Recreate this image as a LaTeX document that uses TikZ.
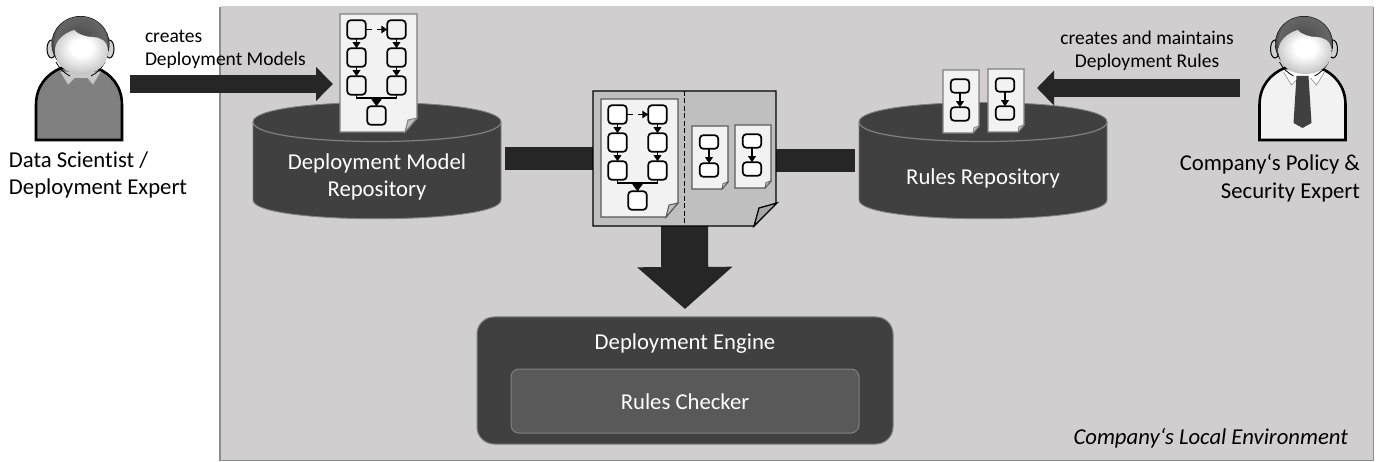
\documentclass[tikz,border=0pt]{standalone}
\usepackage{fontspec}
\setmainfont[Ligatures=CommonOff]{Carlito}
\usetikzlibrary{arrows.meta,calc}
\definecolor{panel}{HTML}{D0CECE}
\definecolor{darkbar}{HTML}{262626}
\definecolor{repo}{HTML}{404040}
\definecolor{rim}{HTML}{808080}
\definecolor{sheet}{HTML}{F2F2F2}
\definecolor{paperA}{HTML}{BFBFBF}
\definecolor{bodygray}{HTML}{808080}
\definecolor{collargray}{HTML}{C8C8C8}
\definecolor{earcolor}{HTML}{D0D0D0}
\pgfdeclareradialshading{faceshade}{\pgfpoint{0bp}{6bp}}{color(0bp)=(white); color(10bp)=(white); color(24bp)=(black!18); color(38bp)=(black!42); color(50bp)=(black!62)}
\pgfdeclareradialshading{hairshade}{\pgfpoint{0bp}{6bp}}{color(0bp)=(black!70); color(22bp)=(black!60); color(30bp)=(black!92); color(50bp)=(black)}
\tikzset{
  every node/.style={inner sep=0pt,outer sep=0pt},
  bigtxt/.style={font=\fontsize{22.7}{27.5}\selectfont,align=center},
  lighttxt/.style={bigtxt,text=white},
  smalltxt/.style={font=\fontsize{19.5}{23}\selectfont},
  blockarrow/.style={draw=darkbar,line width=#1},
  flowbox/.style={draw=black,line width=1.7pt,rounded corners=3.5pt,fill=white,minimum width=18.5pt,minimum height=18.5pt},
  ruleboxn/.style={draw=black,line width=1.7pt,rounded corners=3.5pt,fill=white,minimum width=18.5pt,minimum height=13.5pt},
  flowarrow/.style={draw=black,line width=1.4pt,-{Triangle[length=6pt,width=7.5pt]}},
  flowline/.style={draw=black,line width=1.4pt},
  repobody/.style={fill=repo,draw=rim,line width=0.9pt},
  paperstyle/.style={fill=sheet,draw=#1,line width=1.3pt},
}
% doc with flow chart: name, x, y, box fill, border colour
\newcommand{\flowdoc}[5]{%
\begin{scope}[shift={(#2,#3)}]
  \draw[paperstyle=#5] (0,0) -- (77,0) -- (77,104) -- (65,118) -- (0,118) -- cycle;
  \draw[fill=paperA,draw=#5,line width=1pt] (65,118) -- (68,106) -- (77,104) -- cycle;
  \tikzset{flowbox/.append style={fill=#4}}
  \node[flowbox] (#1a) at (16.5,15.5) {};
  \node[flowbox] (#1b) at (16.5,43.5) {};
  \node[flowbox] (#1c) at (16.5,71.5) {};
  \node[flowbox] (#1d) at (56.5,15.5) {};
  \node[flowbox] (#1e) at (56.5,43.5) {};
  \node[flowbox] (#1f) at (56.5,71.5) {};
  \node[flowbox] (#1g) at (36.5,101.5) {};
  \coordinate (#1m) at (36.5,84);
  \draw[flowarrow,dash pattern=on 6pt off 5.5pt on 20pt] (#1a) -- (#1d);
  \draw[flowarrow] (#1a) -- (#1b);
  \draw[flowarrow] (#1b) -- (#1c);
  \draw[flowarrow] (#1d) -- (#1e);
  \draw[flowarrow] (#1e) -- (#1f);
  \draw[flowline] (#1c.south) -- (#1c.south |- #1m) -- (#1f.south |- #1m) -- (#1f.south);
  \draw[draw=black,line width=1.4pt,-{Triangle[length=7pt,width=10pt]}] (#1m) -- (#1g.north);
\end{scope}}
% small rule doc: name, x, y, box fill, border colour
\newcommand{\ruledoc}[5]{%
\begin{scope}[shift={(#2,#3)}]
  \draw[paperstyle=#5] (0,0) -- (36,0) -- (36,56) -- (30,63) -- (0,63) -- cycle;
  \draw[fill=paperA,draw=#5,line width=0.7pt] (30,63) -- (31,57.5) -- (36,56) -- cycle;
  \tikzset{ruleboxn/.append style={fill=#4}}
  \node[ruleboxn] (#1a) at (17,16) {};
  \node[ruleboxn] (#1b) at (17,44) {};
  \draw[flowarrow] (#1a) -- (#1b);
\end{scope}}
% person: name, centre x, body fill, collar fill
\newcommand{\persona}[4]{%
\begin{scope}[shift={(#2,0)}]
  \draw[fill=#3,draw=black,line width=2.6pt,line join=miter]
    (-43,140) -- (-43,105) .. controls (-43,86) and (-32,74) .. (-18,68) -- (18,68)
    .. controls (32,74) and (43,86) .. (43,105) -- (43,140) -- cycle;
  \fill[#4] (-19,72) -- (-11,85) -- (-4,78) -- (8,78) -- (14,85) -- (22,72) -- cycle;
  \draw[black!45,line width=0.6pt] (-19,72) -- (-11,85) -- (-4,78) (8,78) -- (14,85) -- (22,72);
  \draw[fill=earcolor,draw=black,line width=1pt] (-27.5,49) ellipse [x radius=4.5,y radius=9];
  \draw[fill=earcolor,draw=black,line width=1pt] (30.5,49) ellipse [x radius=4.5,y radius=9];
  \fill[black] (1.5,44) ellipse [x radius=29,y radius=28];
  \shade[shading=hairshade] (1.5,44) ellipse [x radius=28.5,y radius=27.5];
  \draw[black,line width=0.8pt] (-23,62) .. controls (-20,68) and (-15,73) .. (-9,76)
     (26,62) .. controls (23,68) and (18,73) .. (12,76);
  \shade[shading=faceshade]
    (-24,50) .. controls (-24,41) and (-15,33) .. (-5,30)
    .. controls (-1,34) and (6,37) .. (14,37)
    .. controls (21,37) and (29,41) .. (29,51)
    .. controls (29,66) and (17,74) .. (3,74)
    .. controls (-12,74) and (-24,66) .. (-24,50) -- cycle;
  \node[minimum width=88pt,minimum height=72pt] (#1) at (0,104) {};
\end{scope}}
\newcommand{\repodraw}[1]{%
\begin{scope}[shift={(#1,0)}]
  \draw[repobody] (-124,122) .. controls (-124,96) and (124,96) .. (124,122)
    -- (124,200) .. controls (124,225) and (-124,225) .. (-124,200) -- cycle;
  \draw[rim,line width=1.2pt] (-124,122) .. controls (-124,148) and (124,148) .. (124,122);
\end{scope}}
\begin{document}
\begin{tikzpicture}[x=1pt,y=-1pt]
\useasboundingbox (0,0) rectangle (1379,462);
\fill[white] (0,0) rectangle (1379,462);
% panel
\fill[black!45] (219,7) rectangle (1374,461);
\fill[panel] (220.5,6) rectangle (1373,459.5);
% layout anchors
\node[minimum width=183pt,minimum height=135pt] (merged) at (684.5,158.5) {};
\node[draw=rim,fill=repo,rounded corners=17pt,line width=1pt,minimum width=416pt,minimum height=127pt] (engine) at (685,380.5) {};
\node[draw=rim,fill=black!65,rounded corners=8pt,line width=1pt,minimum width=348pt,minimum height=64pt] (checker) at (685,401) {};
\node[lighttxt] (enginetxt) at (685,344) {Deployment Engine};
\node[lighttxt] (checkertxt) at (685,402) {Rules Checker};
% connectors
\coordinate (modelout) at (505,158.5);
\coordinate (rulesout) at (855,160.5);
\draw[blockarrow=23pt] (modelout) -- (merged.west |- modelout);
\draw[blockarrow=23pt] (rulesout) -- (merged.east |- rulesout);
\draw[blockarrow=47pt,-{Triangle[length=42pt,width=93pt]}] (merged.south) -- ([yshift=8pt]engine.north);
% repositories
\repodraw{377}
\repodraw{983}
\node[lighttxt] (modelrepo) at (377,177) {Deployment Model\\Repository};
\node[lighttxt] (rulesrepo) at (983,178) {Rules Repository};
% persons
\persona{scientist}{79}{bodygray}{collargray}
\persona{expert}{1302.5}{sheet}{white}
\fill[repo] (1296.5,76) -- (1308.5,76) -- (1311.5,123) -- (1302.5,128) -- (1293.5,123) -- cycle;
% documents
\flowdoc{top}{340}{14}{sheet}{rim}
\ruledoc{ra}{943}{70}{sheet}{rim}
\ruledoc{rb}{988}{69}{sheet}{rim}
% merged document
\draw[fill=paperA,draw=black,line width=1.3pt] (593,91) -- (776,91) -- (776,203) -- (754,226) -- (593,226) -- cycle;
\draw[fill=black!35,draw=black,line width=1.3pt] (754,226) -- (759,208) -- (777,203) -- cycle;
\draw[black,line width=1pt,dash pattern=on 5pt off 2.5pt] (merged.north) -- (merged.south);
\flowdoc{mid}{601}{99}{white}{black!65}
\ruledoc{mb}{692}{126}{white}{black!65}
\ruledoc{mc}{735}{125}{white}{black!65}
% person arrows
\coordinate (createsstart) at (130,84);
\coordinate (createsend) at (333,84);
\coordinate (rulesstart) at (1240,88);
\coordinate (rulesend) at (1037,88);
\draw[blockarrow=18pt,-{Triangle[length=17pt,width=33pt]}] (createsstart) -- (createsend);
\draw[blockarrow=18pt,-{Triangle[length=17pt,width=34pt]}] (rulesstart) -- (rulesend);
% labels
\node[bigtxt,align=left,anchor=west] (scientistlabel) at (9,175) {Data Scientist /\\Deployment Expert};
\node[bigtxt,align=right,anchor=east] (expertlabel) at (1360,178) {Company‘s Policy \&\\Security Expert};
\node[smalltxt,align=left,anchor=west] (createslabel) at (145,49) {creates\\Deployment Models};
\node[smalltxt,align=center] (ruleslabel) at (1147,51) {creates and maintains\\Deployment Rules};
\node[font=\fontsize{22.7}{27}\selectfont\itshape,anchor=east] (envlabel) at (1348,438) {Company‘s Local Environment};
\end{tikzpicture}
\end{document}
